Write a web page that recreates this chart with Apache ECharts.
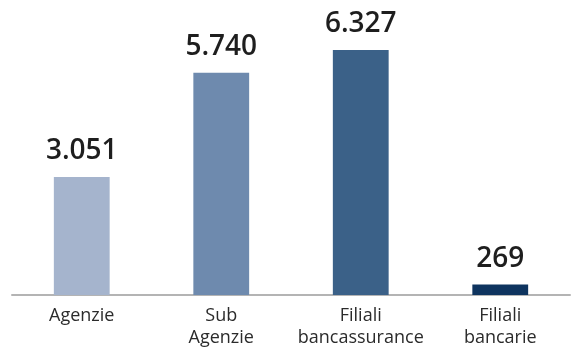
<!DOCTYPE html>
<html>
<head>
<meta charset="utf-8">
<script src="https://cdn.jsdelivr.net/npm/echarts@6/dist/echarts.min.js"></script>
<style>
  html, body { margin: 0; padding: 0; background: #fff; }
  #chart { width: 586px; height: 351px; }
</style>
</head>
<body>
<div id="chart"></div>
<script>
// Distribution network: number of points of sale by channel
const categories = ['Agenzie', 'Sub\nAgenzie', 'Filiali\nbancassurance', 'Filiali\nbancarie'];
const values = [3051, 5740, 6327, 269];
const barColors = ['#a5b4cd', '#6e8aae', '#3b6188', '#0e345f'];

const chart = echarts.init(document.getElementById('chart'), null, { renderer: 'canvas' });

chart.setOption({
  animation: false,
  backgroundColor: '#ffffff',
  grid: { left: 12, right: 16, top: 24, bottom: 56, containLabel: false },
  xAxis: {
    type: 'category',
    data: categories,
    axisLine: { show: true, lineStyle: { color: '#b4b4b4', width: 2 } },
    axisTick: { show: false },
    axisLabel: {
      color: '#2b2b2b',
      fontFamily: 'Open Sans',
      fontSize: 18,
      lineHeight: 22,
      margin: 10,
      interval: 0
    }
  },
  yAxis: {
    type: 'value',
    min: 0,
    max: 7000,
    show: false,
    splitLine: { show: false }
  },
  series: [{
    type: 'bar',
    barWidth: '40%',
    data: values.map((v, i) => ({ value: v, itemStyle: { color: barColors[i] } })),
    label: {
      show: true,
      position: 'top',
      distance: 12,
      color: '#1e1e1e',
      fontFamily: 'Open Sans',
      fontWeight: 600,
      fontSize: 28,
      formatter: p => p.value.toLocaleString('it-IT')
    }
  }]
});
</script>
</body>
</html>
